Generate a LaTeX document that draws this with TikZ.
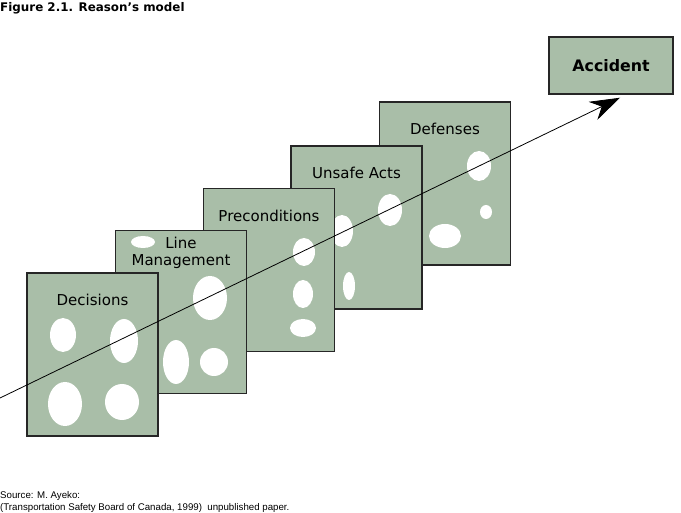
\documentclass[tikz,border=0pt]{standalone}
\usepackage{fontspec}
\setmainfont{DejaVu Sans}
\newfontfamily\srcfont{Liberation Sans}
\usetikzlibrary{arrows.meta,positioning,calc}
\definecolor{slab}{RGB}{169,190,168}

\begin{document}
\begin{tikzpicture}[
    x=1pt, y=-1pt,
    >=Stealth,
    panel/.style={draw=black!85, line width=1.5pt, fill=slab, minimum width=131pt, minimum height=163pt, inner sep=0pt},
    layer/.style={font=\fontsize{15}{16.5}\selectfont, align=center, inner sep=0pt},
    hole/.style={fill=white},
    result/.style={draw=black!85, line width=1.5pt, fill=slab, minimum width=124pt, minimum height=57pt, font=\bfseries\fontsize{15.8}{18}\selectfont}
  ]
    \useasboundingbox (0,0) rectangle (681,513);

    % titre
    \node[anchor=west, inner sep=0pt, font=\bfseries\fontsize{11.9}{13}\selectfont] (title) at (0,8) {Figure 2.1. Reason's model};

    % plaques (de l'arriere vers l'avant)
    \node[panel] (def) at (445,183.5) {};
    \node[layer] (def-t) at ([yshift=-28pt]def.north) {Defenses};
    \fill[hole] (479,166) ellipse [x radius=12pt, y radius=15pt];
    \fill[hole] (486,212) ellipse [x radius=6pt, y radius=7pt];
    \fill[hole] (445,236) ellipse [x radius=16pt, y radius=12pt];

    \node[panel] (uns) at (356.5,227.5) {};
    \node[layer] (uns-t) at ([yshift=-28pt]uns.north) {Unsafe Acts};
    \fill[hole] (342,231) ellipse [x radius=11pt, y radius=16pt];
    \fill[hole] (390,210) ellipse [x radius=12pt, y radius=16pt];
    \fill[hole] (349,286) ellipse [x radius=6pt, y radius=14pt];

    \node[panel] (pre) at (269,270) {};
    \node[layer] (pre-t) at ([yshift=-28pt]pre.north) {Preconditions};
    \fill[hole] (304,252) ellipse [x radius=11pt, y radius=14pt];
    \fill[hole] (303,294) ellipse [x radius=10pt, y radius=14pt];
    \fill[hole] (303,328) ellipse [x radius=13pt, y radius=9pt];

    \node[panel] (man) at (181,312) {};
    \node[layer] (man-t) at ([yshift=-23pt]man.north) {Line\\Management};
    \fill[hole] (143,242) ellipse [x radius=12pt, y radius=6pt];
    \fill[hole] (210,298) ellipse [x radius=17pt, y radius=22pt];
    \fill[hole] (176,362) ellipse [x radius=13pt, y radius=22pt];
    \fill[hole] (214,362) ellipse [x radius=14pt, y radius=14pt];

    \node[panel] (dec) at (92.5,354.5) {};
    \node[layer] (dec-t) at ([yshift=-28pt]dec.north) {Decisions};
    \fill[hole] (63,335) ellipse [x radius=13pt, y radius=17pt];
    \fill[hole] (124,341) ellipse [x radius=14pt, y radius=22pt];
    \fill[hole] (65,404) ellipse [x radius=17pt, y radius=22pt];
    \fill[hole] (122,402) ellipse [x radius=17pt, y radius=18pt];

    % accident
    \node[result] (acc) at (611,65.5) {Accident};

    % trajectoire
    \coordinate (start) at (0,398);
    \draw[line width=0.8pt, -{Stealth[length=30pt,width=20pt]}] (start) -- ([xshift=9pt,yshift=-3pt]acc.south);

    % source
    \node[anchor=north west, align=left, inner sep=0pt, font=\srcfont\fontsize{9.7}{12}\selectfont] (src) at (0,491.5) {Source: M. Ayeko:\\(Transportation Safety Board of Canada, 1999)~~unpublished paper.};

  \end{tikzpicture}
\end{document}
